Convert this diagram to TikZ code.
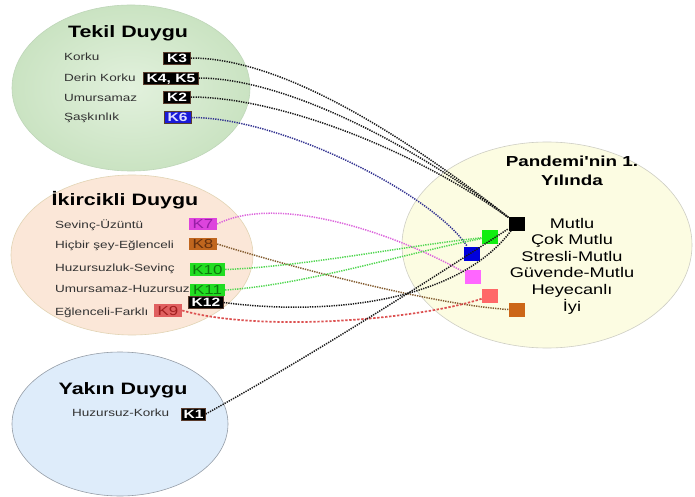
\documentclass[tikz,border=0pt]{standalone}
\usepackage{fontspec}
\setmainfont[FakeStretch=1.3,Ligatures=TeXOff]{Liberation Sans}
\definecolor{tekilin}{RGB}{226,241,221}
\definecolor{tekilout}{RGB}{202,227,194}
\definecolor{tekildraw}{RGB}{190,214,184}
\definecolor{ikfill}{RGB}{251,231,216}
\definecolor{ikdraw}{RGB}{226,212,180}
\definecolor{yakfill}{RGB}{222,236,250}
\definecolor{yakdraw}{RGB}{150,158,168}
\definecolor{panfill}{RGB}{252,252,226}
\definecolor{pandraw}{RGB}{206,206,196}
\definecolor{itemgray}{RGB}{50,50,50}
\definecolor{kborder}{RGB}{90,60,45}
\definecolor{kmag}{RGB}{221,68,221}
\definecolor{kmagtext}{RGB}{150,30,165}
\definecolor{kbrown}{RGB}{192,102,30}
\definecolor{kbrowntext}{RGB}{100,48,14}
\definecolor{kgreen}{RGB}{34,221,34}
\definecolor{kgreentext}{RGB}{12,120,12}
\definecolor{kred}{RGB}{224,96,96}
\definecolor{kredtext}{RGB}{160,30,30}
\definecolor{kblue}{RGB}{26,26,216}
\definecolor{kbluetext}{RGB}{222,222,255}
\definecolor{sqgreen}{RGB}{17,238,17}
\definecolor{sqblue}{RGB}{0,0,221}
\definecolor{sqpink}{RGB}{255,102,255}
\definecolor{sqred}{RGB}{255,104,104}
\definecolor{sqbrown}{RGB}{204,102,24}
\definecolor{cblack}{RGB}{25,25,25}
\definecolor{cblue}{RGB}{50,50,145}
\definecolor{cpink}{RGB}{220,100,220}
\definecolor{cbrown}{RGB}{130,90,45}
\definecolor{cgreen}{RGB}{80,215,80}
\definecolor{cred}{RGB}{220,80,80}
\begin{document}
\begin{tikzpicture}[x=1pt,y=-1pt,
  item/.style={anchor=west,font=\fontsize{10.4}{12}\selectfont,text=itemgray,inner sep=0pt},
  ttl/.style={font=\bfseries\fontsize{16.5}{19}\selectfont,inner sep=0pt},
  kbox/.style={inner xsep=3pt,inner ysep=1.5pt,text height=8.6pt,text depth=0pt,minimum width=27pt},
  kdark/.style={kbox,fill=#1,draw=kborder,line width=0.5pt,text=white,font=\bfseries\fontsize{12}{12}\selectfont},
  kcol/.style 2 args={kbox,fill=#1,text=#2,font=\fontsize{13}{13}\selectfont,text height=9.3pt,inner xsep=2.5pt,minimum width=28pt},
  sq/.style={minimum width=16pt,minimum height=14pt,inner sep=0pt,fill=#1},
  con/.style={line width=1.5pt,dash pattern=on 1.3pt off 1.1pt,draw=#1},
]
\useasboundingbox (0,0) rectangle (695,497);
\fill[white] (0,0) rectangle (695,497);
% ellipses
\shade[inner color=tekilin,outer color=tekilout] (131,88) ellipse [x radius=119pt,y radius=83pt];
\draw[tekildraw,line width=0.6pt] (131,88) ellipse [x radius=119pt,y radius=83pt];
\draw[ikdraw,fill=ikfill,line width=0.6pt] (132,255) ellipse [x radius=121pt,y radius=80pt];
\draw[yakdraw,fill=yakfill,line width=0.6pt] (120,424) ellipse [x radius=108pt,y radius=72pt];
\draw[pandraw,fill=panfill,line width=0.6pt] (547,245) ellipse [x radius=145pt,y radius=103pt];
% Tekil
\node[ttl] (tekil) at (128,33) {Tekil Duygu};
\node[item] (t1) at (64,57) {Korku};
\node[item] (t2) at (64,78) {Derin Korku};
\node[item] (t3) at (64,98) {Umursamaz};
\node[item] (t4) at (64,118) {Şaşkınlık};
\node[kdark=black] (k3) at (177,58) {K3};
\node[kdark=black] (k45) at (171,78) {K4, K5};
\node[kdark=black] (k2) at (177,97) {K2};
\node[kdark=kblue,text=kbluetext] (k6) at (177.5,117.5) {K6};
% Ikircikli
\node[ttl] (ikir) at (125,200) {İkircikli Duygu};
\node[item] (a1) at (55,225) {Sevinç-Üzüntü};
\node[item] (a2) at (55,246) {Hiçbir şey-Eğlenceli};
\node[item] (a3) at (55,269) {Huzursuzluk-Sevinç};
\node[item] (a4) at (55,289) {Umursamaz-Huzursuz};
\node[item] (a5) at (55,313) {Eğlenceli-Farklı};
\node[kcol={kmag}{kmagtext}] (k7) at (203,224) {K7};
\node[kcol={kbrown}{kbrowntext}] (k8) at (203,244) {K8};
\node[kcol={kgreen}{kgreentext},minimum width=35pt] (k10) at (207.5,269.5) {K10};
\node[kcol={kgreen}{kgreentext},minimum width=35pt] (k11) at (207.5,290) {K11};
\node[kdark=black,minimum width=32pt] (k12) at (206,302.5) {K12};
\node[kcol={kred}{kredtext}] (k9) at (168,310.5) {K9};
% Yakin
\node[ttl] (yakin) at (123,390) {Yakın Duygu};
\node[item] (y1) at (72,413) {Huzursuz-Korku};
\node[kdark=black,minimum width=23pt,inner xsep=2pt] (k1) at (193.5,414) {K1};
% Pandemi
\node[font=\bfseries\fontsize{14.5}{19}\selectfont,align=center,inner sep=0pt] (pan) at (572,171) {Pandemi'nin 1.\\Yılında};
\node[font=\fontsize{14}{16.6}\selectfont,align=center,inner sep=0pt] (plist) at (572,266) {Mutlu\\Çok Mutlu\\Stresli-Mutlu\\Güvende-Mutlu\\Heyecanlı\\İyi};
\node[sq=black] (sqk) at (516.5,223.5) {};
\node[sq=sqgreen] (sqg) at (490,237) {};
\node[sq=sqblue] (sqb) at (472,253.5) {};
\node[sq=sqpink] (sqp) at (472.5,277) {};
\node[sq=sqred] (sqr) at (490,296) {};
\node[sq=sqbrown] (sqbr) at (516.5,310) {};
% connectors
\draw[con=cblack] (k3.east) .. controls +(95,0) and +(-105,-82) .. (sqk);
\draw[con=cblack] (k45.east) .. controls +(85,0) and +(-105,-80) .. (sqk);
\draw[con=cblack] (k2.east) .. controls +(85,0) and +(-105,-76) .. (sqk);
\draw[con=cblue] (k6.east) .. controls +(90,0) and +(-40,-60) .. (sqb);
\draw[con=cpink] (k7.east) .. controls +(60,-30) and +(-80,-45) .. (sqp);
\draw[con=cbrown] (k8.east) .. controls +(80,25) and +(-80,-5) .. (sqbr);
\draw[con=cgreen] (k10.east) .. controls +(80,-3) and +(-80,8) .. (sqg);
\draw[con=cgreen] (k11.east) .. controls +(80,-5) and +(-80,15) .. (sqg);
\draw[con=cblack] (k12.east) .. controls +(98,13) and +(-61,81) .. (sqk);
\draw[con=cred,line width=1.7pt,dash pattern=on 2.4pt off 1.6pt] (k9.east) .. controls +(78,22) and +(-73,24) .. (sqr);
\draw[con=cblack] (k1.east) .. controls +(100,-55) and +(-100,65) .. (sqk);
\end{tikzpicture}
\end{document}
